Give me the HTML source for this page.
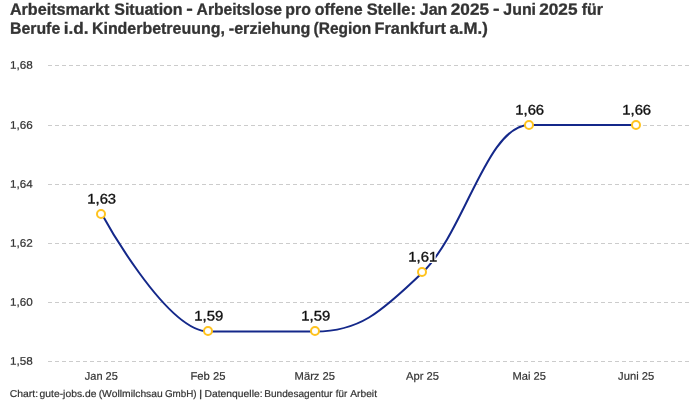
<!DOCTYPE html>
<html><head><meta charset="utf-8">
<style>
html,body{margin:0;padding:0;background:#fff;}
body{width:700px;height:400px;overflow:hidden;font-family:"Liberation Sans",sans-serif;}
svg{display:block;will-change:transform;}
text{font-family:"Liberation Sans",sans-serif;font-kerning:none;}
.title{font-weight:bold;font-size:16.3px;fill:#333;stroke:#333;stroke-width:0.3px;}
.ax{font-size:11.0px;fill:#333;stroke:#333;stroke-width:0.2px;}
.xax{font-size:11.0px;fill:#333;stroke:#333;stroke-width:0.2px;}
.halo{font-size:13.9px;fill:#fff;stroke:#fff;stroke-width:3px;stroke-linejoin:round;}
.lbl{font-size:13.9px;fill:#111;stroke:#111;stroke-width:0.35px;}
.src{font-size:10.0px;fill:#333;stroke:#333;stroke-width:0.2px;}
.grid line{stroke:#ccc;stroke-width:1;stroke-dasharray:4 3;shape-rendering:crispEdges;}
.pt{fill:#fff;stroke:#ffc31e;stroke-width:2;}
</style></head><body>
<svg width="700" height="400" viewBox="0 0 700 400">
<rect width="700" height="400" fill="#fff"/>
<text class="title" transform="translate(9.90,14.8) scale(0.9905,1) rotate(0.03)" >Arbeitsmarkt</text>
<text class="title" transform="translate(114.24,14.8) scale(0.9818,1) rotate(0.03)" >Situation</text>
<text class="title" transform="translate(186.33,14.3) scale(1.2081,1) rotate(0.03)" >-</text>
<text class="title" transform="translate(196.61,14.8) scale(0.9612,1) rotate(0.03)" >Arbeitslose</text>
<text class="title" transform="translate(285.35,14.8) scale(0.9737,1) rotate(0.03)" >pro</text>
<text class="title" transform="translate(314.78,14.8) scale(0.9789,1) rotate(0.03)" >offene</text>
<text class="title" transform="translate(366.63,14.8) scale(1.0069,1) rotate(0.03)" >Stelle:</text>
<text class="title" transform="translate(419.76,14.8) scale(0.9840,1) rotate(0.03)" >Jan</text>
<text class="title" transform="translate(450.80,14.8) scale(1.0555,1) rotate(0.03)" >2025</text>
<text class="title" transform="translate(492.93,14.3) scale(1.2081,1) rotate(0.03)" >-</text>
<text class="title" transform="translate(503.36,14.8) scale(0.9749,1) rotate(0.03)" >Juni</text>
<text class="title" transform="translate(539.20,14.8) scale(1.0555,1) rotate(0.03)" >2025</text>
<text class="title" transform="translate(581.73,14.8) scale(0.9763,1) rotate(0.03)" >für</text>
<text class="title" transform="translate(10.04,33.7) scale(0.9723,1) rotate(0.03)" >Berufe</text>
<text class="title" transform="translate(63.80,33.7) scale(1.0525,1) rotate(0.03)" >i.d.</text>
<text class="title" transform="translate(91.93,33.7) scale(0.9801,1) rotate(0.03)" >Kinderbetreuung,</text>
<text class="title" transform="translate(228.77,33.7) scale(0.9903,1) rotate(0.03)" >-erziehung</text>
<text class="title" transform="translate(313.53,33.7) scale(0.9517,1) rotate(0.03)" >(Region</text>
<text class="title" transform="translate(374.61,33.7) scale(0.9964,1) rotate(0.03)" >Frankfurt</text>
<text class="title" transform="translate(449.51,33.7) scale(1.0324,1) rotate(0.03)" >a.M.)</text>
<g class="grid">
<line x1="48" x2="690" y1="65.5" y2="65.5"/>
<line x1="48" x2="690" y1="125.5" y2="125.5"/>
<line x1="48" x2="690" y1="184.5" y2="184.5"/>
<line x1="48" x2="690" y1="243.5" y2="243.5"/>
<line x1="48" x2="690" y1="302.5" y2="302.5"/>
<line x1="48" x2="690" y1="361.5" y2="361.5"/>
</g>
<text class="ax" transform="translate(10.01,68.8) scale(1.0650,1) rotate(0.03)" >1,68</text>
<text class="ax" transform="translate(10.01,128.8) scale(1.0653,1) rotate(0.03)" >1,66</text>
<text class="ax" transform="translate(10.01,187.8) scale(1.0568,1) rotate(0.03)" >1,64</text>
<text class="ax" transform="translate(10.00,246.8) scale(1.0690,1) rotate(0.03)" >1,62</text>
<text class="ax" transform="translate(10.01,305.8) scale(1.0625,1) rotate(0.03)" >1,60</text>
<text class="ax" transform="translate(10.01,364.8) scale(1.0650,1) rotate(0.03)" >1,58</text>
<text class="xax" transform="translate(84.83,379.8) scale(1.0002,1) rotate(0.03)" >Jan 25</text>
<text class="xax" transform="translate(190.38,379.8) scale(1.0249,1) rotate(0.03)" >Feb 25</text>
<text class="xax" transform="translate(294.58,379.8) scale(1.0190,1) rotate(0.03)" >März 25</text>
<text class="xax" transform="translate(405.98,379.8) scale(1.0180,1) rotate(0.03)" >Apr 25</text>
<text class="xax" transform="translate(512.48,379.8) scale(1.0142,1) rotate(0.03)" >Mai 25</text>
<text class="xax" transform="translate(618.12,379.8) scale(1.0190,1) rotate(0.03)" >Juni 25</text>
<path d="M101.5,213.5C101.50,213.50,165.70,331.50,208.5,331.5C251.30,331.50,272.70,331.50,315.5,331.5C358.30,331.50,379.70,313.80,422.5,272.5C465.30,231.20,486.70,125.00,529.5,125C572.30,125.00,636.50,125.00,636.5,125" fill="none" stroke="#14288a" stroke-width="2"/>
<g class="pt">
<circle cx="101" cy="214" r="4"/>
<circle cx="208" cy="331" r="4"/>
<circle cx="315" cy="331" r="4"/>
<circle cx="422" cy="272" r="4"/>
<circle cx="529" cy="125" r="4"/>
<circle cx="636" cy="125" r="4"/>
</g>
<text class="halo" transform="translate(87.27,203.6) scale(1.0676,1) rotate(0.03)" >1,63</text>
<text class="halo" transform="translate(194.27,320.6) scale(1.0696,1) rotate(0.03)" >1,59</text>
<text class="halo" transform="translate(301.27,320.6) scale(1.0696,1) rotate(0.03)" >1,59</text>
<text class="halo" transform="translate(408.27,261.6) scale(1.0705,1) rotate(0.03)" >1,61</text>
<text class="halo" transform="translate(515.27,114.5) scale(1.0676,1) rotate(0.03)" >1,66</text>
<text class="halo" transform="translate(622.27,114.5) scale(1.0676,1) rotate(0.03)" >1,66</text>
<text class="lbl" transform="translate(87.27,203.6) scale(1.0676,1) rotate(0.03)" >1,63</text>
<text class="lbl" transform="translate(194.27,320.6) scale(1.0696,1) rotate(0.03)" >1,59</text>
<text class="lbl" transform="translate(301.27,320.6) scale(1.0696,1) rotate(0.03)" >1,59</text>
<text class="lbl" transform="translate(408.27,261.6) scale(1.0705,1) rotate(0.03)" >1,61</text>
<text class="lbl" transform="translate(515.27,114.5) scale(1.0676,1) rotate(0.03)" >1,66</text>
<text class="lbl" transform="translate(622.27,114.5) scale(1.0676,1) rotate(0.03)" >1,66</text>
<text class="src" transform="translate(9.77,396.9) scale(1.0383,1) rotate(0.03)" >Chart:</text>
<text class="src" transform="translate(39.57,396.9) scale(1.0337,1) rotate(0.03)" >gute-jobs.de</text>
<text class="src" transform="translate(98.66,396.9) scale(1.0304,1) rotate(0.03)" >(Wollmilchsau</text>
<text class="src" transform="translate(164.91,396.9) scale(0.9840,1) rotate(0.03)" >GmbH)</text>
<text class="src" transform="translate(199.10,396.9) scale(1.2337,1) rotate(0.03)" >|</text>
<text class="src" transform="translate(204.55,396.9) scale(1.0346,1) rotate(0.03)" >Datenquelle:</text>
<text class="src" transform="translate(264.17,396.9) scale(1.0113,1) rotate(0.03)" >Bundesagentur</text>
<text class="src" transform="translate(335.86,396.9) scale(0.9769,1) rotate(0.03)" >für</text>
<text class="src" transform="translate(350.28,396.9) scale(1.0219,1) rotate(0.03)" >Arbeit</text>
</svg>
</body></html>
